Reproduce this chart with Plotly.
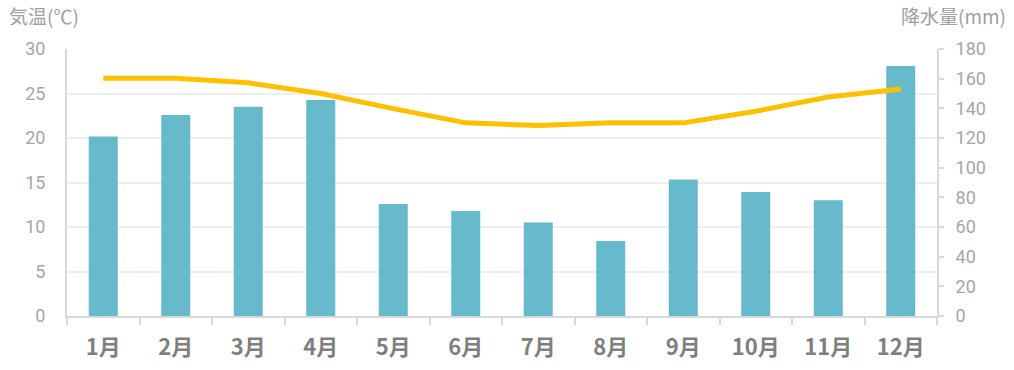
import plotly.graph_objects as go

months = ["1月", "2月", "3月", "4月", "5月", "6月", "7月", "8月", "9月", "10月", "11月", "12月"]
temperature = [26.7, 26.7, 26.2, 25.0, 23.3, 21.7, 21.4, 21.7, 21.7, 23.0, 24.6, 25.5]
precipitation = [121, 135.5, 141, 145.6, 75.5, 70.8, 63, 50.6, 92, 83.6, 78, 168.5]

temp_ticks = [0, 5, 10, 15, 20, 25, 30]
precip_ticks = [0, 20, 40, 60, 80, 100, 120, 140, 160, 180]

AXIS = "#d9d9d9"
GRID = "#efefef"
TICKTXT = "#a6a6a6"

fig = go.Figure()
fig.add_trace(go.Bar(
    x=months, y=precipitation, yaxis="y",
    marker=dict(color="#67b9cc", line=dict(width=0)),
    width=0.4, name="降水量", hoverinfo="x+y",
))
fig.add_trace(go.Scatter(
    x=months, y=temperature, yaxis="y2", mode="lines",
    line=dict(color="#ffc000", width=5, shape="linear"),
    name="気温",
))

fig.update_layout(
    width=1014, height=370,
    margin=dict(l=67, r=77, t=49, b=54, autoexpand=False),
    paper_bgcolor="white", plot_bgcolor="white",
    showlegend=False,
    font=dict(family="Roboto, Noto Sans CJK JP, sans-serif"),
    xaxis=dict(
        type="category", showline=True, linecolor=AXIS, linewidth=2,
        ticks="outside", tickson="boundaries", ticklen=7, tickcolor=AXIS, tickwidth=2,
        tickfont=dict(family="Noto Sans CJK JP", size=22, color="#7f7f7f", weight="bold"),
        showgrid=False, range=[-0.5, 11.5], automargin=False, ticklabelstandoff=11,
    ),
    yaxis=dict(
        side="right", range=[0, 180], tickvals=precip_ticks,
        showline=True, linecolor=AXIS, linewidth=2,
        ticks="outside", ticklen=5, tickcolor=AXIS, tickwidth=2,
        tickfont=dict(size=18, color=TICKTXT), ticklabelstandoff=8,
        showgrid=False, zeroline=False, automargin=False,
    ),
    yaxis2=dict(
        side="left", overlaying="y", range=[0, 30], tickvals=temp_ticks,
        showline=True, linecolor=AXIS, linewidth=2,
        ticks="", tickfont=dict(size=18, color=TICKTXT), ticklabelstandoff=16,
        showgrid=True, gridcolor=GRID, gridwidth=2, zeroline=False, automargin=False,
    ),
    annotations=[
        dict(text="気温(℃)", xref="paper", yref="paper", x=-60/870, y=1 + 33/267,
             xanchor="left", yanchor="middle", showarrow=False,
             font=dict(family="Noto Sans CJK JP", size=19, color="#a0a0a0")),
        dict(text="降水量(mm)", xref="paper", yref="paper", x=1 + 71/870, y=1 + 33/267,
             xanchor="right", yanchor="middle", showarrow=False,
             font=dict(family="Noto Sans CJK JP", size=19, color="#a0a0a0")),
    ],
)

fig.write_html("out.html", config={"displayModeBar": False},
               post_script="document.body.style.margin='0';document.body.style.overflow='hidden';")
